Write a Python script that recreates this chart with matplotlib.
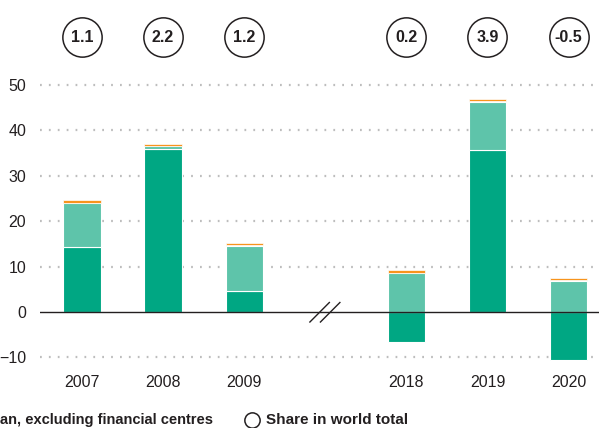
import numpy as np
import matplotlib
matplotlib.use("Agg")
import matplotlib.pyplot as plt

plt.rcParams["font.family"] = ["Liberation Sans", "DejaVu Sans"]

years = ["2007", "2008", "2009", "2018", "2019", "2020"]
pos = [0, 1, 2, 4, 5, 6]
dark = [14.4, 35.9, 4.6, -6.5, 35.7, -10.6]
light = [9.6, 0.6, 10.0, 8.5, 10.6, 6.9]
orange = [0.5, 0.5, 0.5, 0.6, 0.5, 0.5]
share = ["1.1", "2.2", "1.2", "0.2", "3.9", "-0.5"]

C_DARK = "#00a783"; C_LIGHT = "#5ec4aa"; C_OR = "#f7941d"; INK = "#231f20"; GRIDC = "#bdbdbd"

fig = plt.figure(figsize=(5.99, 4.28), dpi=100)
ax = fig.add_axes([40 / 599, (428 - 366.5) / 428, 559 / 599, (366.5 - 76) / 428])
ax.set_xlim(-0.518, 6.375)
ax.set_ylim(-12, 52)

w = 0.46
for p, d, l, o in zip(pos, dark, light, orange):
    ax.bar(p, d, w, color=C_DARK, edgecolor="white", lw=0.8, zorder=3)
    base = max(d, 0)
    ax.bar(p, l, w, bottom=base, color=C_LIGHT, edgecolor="white", lw=0.8, zorder=3)
    ax.bar(p, o, w, bottom=base + l + 0.1, color=C_OR, edgecolor="white", lw=0.5, zorder=3)

ax.set_yticks([-10, 0, 10, 20, 30, 40, 50])
for v in [-10, 10, 20, 30, 40, 50]:
    ax.axhline(v, color=GRIDC, lw=1.6, ls=(0, (0.8, 3.2)), zorder=1)
ax.axhline(0, color=INK, lw=1.0, zorder=4)

# axis break between 2009 and 2018
gx = (pos[2] + pos[3]) / 2
for dx in (-0.07, 0.06):
    ax.plot([gx + dx - 0.12, gx + dx + 0.12], [-2.2, 2.1], color=INK, lw=1.0, zorder=5, clip_on=False)

ax.set_xticks(pos)
ax.set_xticklabels(years)
ax.tick_params(length=0, labelsize=11.5, colors=INK)
ax.tick_params(axis="x", pad=6)
ax.tick_params(axis="y", pad=10)
for s in ax.spines.values():
    s.set_visible(False)

# share-in-world circles
ax.scatter(pos, [60.5] * len(pos), s=800, facecolor="white", edgecolor=INK, lw=1.1, clip_on=False, zorder=6)
for p, t in zip(pos, share):
    ax.text(p, 60.4, t, ha="center", va="center", fontsize=11.5, fontweight="bold", color=INK, zorder=7)

# legend (the reference is cropped at the left edge)
fig.text(213 / 599, 1 - 420 / 428, "an, excluding financial centres", ha="right", va="center",
         fontsize=10.5, fontweight="bold", color=INK)
fig.lines.append(plt.Line2D([252 / 599], [1 - 420 / 428], marker="o", ms=11, mfc="white", mec=INK,
                            mew=1.1, transform=fig.transFigure))
fig.text(266 / 599, 1 - 420 / 428, "Share in world total", ha="left", va="center",
         fontsize=11, fontweight="bold", color=INK)

fig.savefig("out.png", facecolor="white")
